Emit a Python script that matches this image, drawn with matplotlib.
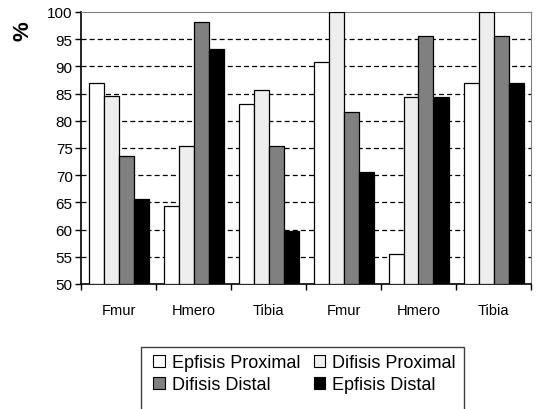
import numpy as np
import matplotlib.pyplot as plt
from matplotlib.patches import Patch, Rectangle

plt.rcParams['font.family'] = ['Liberation Sans', 'DejaVu Sans']

groups = ['Fmur', 'Hmero', 'Tibia', 'Fmur', 'Hmero', 'Tibia']
series = ['Epfisis Proximal', 'Difisis Proximal', 'Difisis Distal', 'Epfisis Distal']
epfisis_proximal = [86.9, 64.3, 83.1, 90.9, 55.5, 86.9]
difisis_proximal = [84.6, 75.4, 85.7, 100.0, 84.3, 100.0]
difisis_distal = [73.6, 98.2, 75.4, 81.7, 95.5, 95.5]
epfisis_distal = [65.6, 93.2, 59.7, 70.5, 84.4, 86.9]
colors = ['white', '#eeeeee', '#808080', 'black']

fig = plt.figure(figsize=(5.38, 4.10), dpi=100)
ax = fig.add_axes([81 / 538, 1 - 285 / 410, 450 / 538, 272 / 410])

x = np.arange(len(groups))
w = 0.2
data = [epfisis_proximal, difisis_proximal, difisis_distal, epfisis_distal]
for i, (vals, c) in enumerate(zip(data, colors)):
    ax.bar(x + (i - 1.5) * w, np.array(vals) - 50, bottom=50, width=w,
           color=c, edgecolor='black', linewidth=0.9, zorder=3)

ax.set_ylim(50, 100)
ax.set_xlim(-0.5, len(groups) - 0.5)
ax.set_yticks(range(50, 101, 5))
for v in range(55, 100, 5):
    ax.axhline(v, color='black', linestyle=(0, (4, 2.5)), linewidth=0.9, zorder=1)

ax.set_xticks(np.arange(-0.5, len(groups) + 0.5, 1))
ax.set_xticklabels([])
ax.set_xticks(x, minor=True)
ax.set_xticklabels(groups, minor=True, fontsize=10.5)
ax.tick_params(axis='x', which='minor', length=0, pad=14)
ax.tick_params(axis='x', which='major', length=4, direction='out', width=1)
ax.tick_params(axis='y', length=4, direction='out', width=1, labelsize=11, pad=2)

for s in ['top', 'right']:
    ax.spines[s].set_color('#808080')
for s in ['left', 'bottom']:
    ax.spines[s].set_color('black')
    ax.spines[s].set_linewidth(1.2)

fig.text(23 / 538, 1 - 31 / 410, '%', rotation=90, fontsize=16, fontweight='bold',
         ha='center', va='center')

# legend box runs off the bottom edge, as in the source
fig.patches.append(Rectangle((141 / 538, -0.05), (464 - 141) / 538, (0.05 + 1 - 348 / 410),
                             transform=fig.transFigure, fill=False,
                             edgecolor='#404040', linewidth=1.0))
handles = [Patch(facecolor=c, edgecolor='black', linewidth=0.8) for c in colors]
order = [0, 2, 1, 3]
leg = fig.legend([handles[i] for i in order], [series[i] for i in order],
                 loc='upper left', bbox_to_anchor=(139 / 538, 1 - 341 / 410),
                 ncol=2, fontsize=13, frameon=False,
                 handlelength=0.65, handleheight=0.65,
                 handletextpad=0.35, columnspacing=0.75, labelspacing=0.25,
                 borderpad=0.3)

fig.savefig('out.png', dpi=100)
